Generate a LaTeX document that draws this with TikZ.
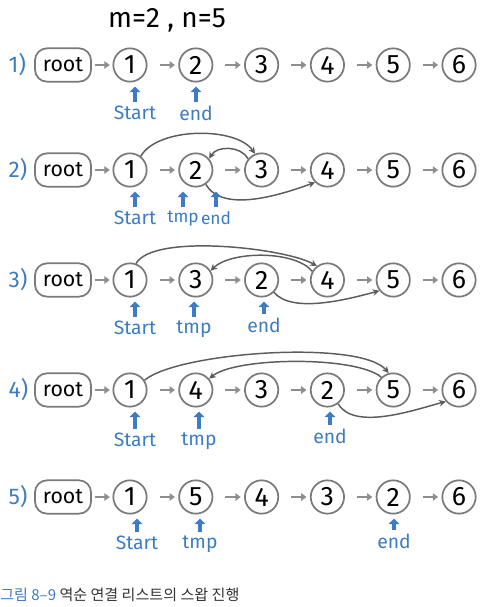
\documentclass[tikz,border=0pt]{standalone}
\usepackage{fontspec}
\setmainfont{Fira Sans}
\newfontfamily\krfont{Noto Sans CJK KR}
\usetikzlibrary{arrows.meta}
\definecolor{ptrblue}{HTML}{3B7CC4}
\definecolor{nodegray}{HTML}{7A7A7A}
\definecolor{linkgray}{HTML}{8E8E8E}
\definecolor{swapgray}{HTML}{5C5C5C}
\definecolor{captext}{HTML}{333333}
\tikzset{
  elem/.style={circle,draw=nodegray,line width=1.3pt,minimum size=25pt,inner sep=0pt,
    font=\fontsize{20}{20}\selectfont},
  rootbox/.style={rounded corners=9pt,draw=nodegray,line width=1.3pt,minimum width=42pt,
    minimum height=25pt,inner sep=0pt,font=\fontsize{16}{16}\selectfont},
  link/.style={line width=1.6pt,linkgray,-{Triangle[length=4pt,width=5.5pt]},
    shorten <=9pt,shorten >=2.5pt},
  rootlink/.style={link,shorten <=2pt,shorten >=2pt},
  swap/.style={line width=1.1pt,swapgray,-{Stealth[length=5pt,width=5pt]}},
  ptr/.style={line width=2.6pt,ptrblue,-{Triangle[length=4.2pt,width=8pt]},shorten >=3pt},
  ptrlbl/.style={font=\fontsize{14.5}{14.5}\selectfont,text=ptrblue,inner sep=3pt,anchor=north},
  smalllbl/.style={ptrlbl,font=\fontsize{13}{13}\selectfont,inner xsep=0pt},
  rowlbl/.style={font=\fontsize{17}{17}\selectfont,text=ptrblue,anchor=west},
}

\begin{document}
\begin{tikzpicture}[x=0.75pt,y=0.75pt]
  \useasboundingbox (0,0) rectangle (490,607);
  \node[font=\fontsize{21}{21}\selectfont] (title) at (167,587) {m=2 , n=5};

  % 1) start state
  \node[rowlbl] (l1) at (4,542) {1)};
  \node[rootbox] (r1) at (63,542) {root};
  \foreach \v [count=\i] in {1,2,3,4,5,6}
    \node[elem] (a\i) at ({130+65.8*(\i-1)},542) {\v};
  \draw[rootlink] (r1) -- (a1);
  \foreach \i [count=\j from 2] in {1,...,5}
    \draw[link] (a\i) -- (a\j);
  \node[ptrlbl] (s1) at (135,505) {Start};
  \node[ptrlbl] (e1) at (196,505) {end};
  \draw[ptr] (s1) -- (s1 |- a1.south);
  \draw[ptr] (e1) -- (e1 |- a2.south);

  % 2) first swap
  \node[rowlbl] (l2) at (4,437) {2)};
  \node[rootbox] (r2) at (63,437) {root};
  \foreach \v [count=\i] in {1,2,3,4,5,6}
    \node[elem] (b\i) at ({130+65.8*(\i-1)},437) {\v};
  \draw[rootlink] (r2) -- (b1);
  \foreach \i [count=\j from 2] in {1,...,5}
    \draw[link] (b\i) -- (b\j);
  \draw[swap] (b1.52) to[out=60,in=125,looseness=0.75] (b3.112);
  \draw[swap] (b3.140) to[out=120,in=60] (b2.40);
  \draw[swap] (b2.-55) to[out=-60,in=200,looseness=0.8] (b4.225);
  \node[ptrlbl] (s2) at (135,400) {Start};
  \node[smalllbl] (t2) at (183,400) {tmp};
  \node[smalllbl] (e2) at (216,400) {end};
  \draw[ptr] (s2) -- (s2 |- b1.south);
  \draw[ptr] (t2) -- (t2 |- b2.south);
  \draw[ptr] (e2) -- (e2 |- b2.south);

  % 3) second swap
  \node[rowlbl] (l3) at (4,327) {3)};
  \node[rootbox] (r3) at (63,327) {root};
  \foreach \v [count=\i] in {1,3,2,4,5,6}
    \node[elem] (c\i) at ({130+65.8*(\i-1)},327) {\v};
  \draw[rootlink] (r3) -- (c1);
  \foreach \i [count=\j from 2] in {1,...,5}
    \draw[link] (c\i) -- (c\j);
  \draw[swap] (c1.70) to[out=60,in=150,looseness=0.5] (c4.127);
  \draw[swap] (c4.150) to[out=130,in=45,looseness=0.7] (c2.32);
  \draw[swap] (c3.-45) to[out=-50,in=195,looseness=0.7] (c5.218);
  \node[ptrlbl] (s3) at (135,290) {Start};
  \node[ptrlbl] (t3) at (194,290) {tmp};
  \node[ptrlbl] (e3) at (264,293) {end};
  \draw[ptr] (s3) -- (s3 |- c1.south);
  \draw[ptr] (t3) -- (t3 |- c2.south);
  \draw[ptr] (e3) -- (e3 |- c3.south);

  % 4) third swap
  \node[rowlbl] (l4) at (4,217) {4)};
  \node[rootbox] (r4) at (63,217) {root};
  \foreach \v [count=\i] in {1,4,3,2,5,6}
    \node[elem] (d\i) at ({130+65.8*(\i-1)},217) {\v};
  \draw[rootlink] (r4) -- (d1);
  \foreach \i [count=\j from 2] in {1,...,5}
    \draw[link] (d\i) -- (d\j);
  \draw[swap] (d1.34) to[out=40,in=130,looseness=0.46] (d5.105);
  \draw[swap] (d5.133) to[out=140,in=40,looseness=0.5] (d2.40);
  \draw[swap] (d4.-52) to[out=-60,in=195,looseness=0.75] (d6.221);
  \node[ptrlbl] (s4) at (135,178) {Start};
  \node[ptrlbl] (t4) at (199,178) {tmp};
  \node[ptrlbl] (e4) at (330,182) {end};
  \draw[ptr] (s4) -- (s4 |- d1.south);
  \draw[ptr] (t4) -- (t4 |- d2.south);
  \draw[ptr] (e4) -- (e4 |- d4.south);

  % 5) result
  \node[rowlbl] (l5) at (4,110) {5)};
  \node[rootbox] (r5) at (63,110) {root};
  \foreach \v [count=\i] in {1,5,4,3,2,6}
    \node[elem] (f\i) at ({130+65.8*(\i-1)},110) {\v};
  \draw[rootlink] (r5) -- (f1);
  \foreach \i [count=\j from 2] in {1,...,5}
    \draw[link] (f\i) -- (f\j);
  \node[ptrlbl] (s5) at (137,75) {Start};
  \node[ptrlbl] (t5) at (200,75) {tmp};
  \node[ptrlbl] (e5) at (394,77) {end};
  \draw[ptr] (s5) -- (s5 |- f1.south);
  \draw[ptr] (t5) -- (t5 |- f2.south);
  \draw[ptr] (e5) -- (e5 |- f5.south);

  \node[anchor=west,inner sep=0pt,font=\krfont\fontsize{11.3}{11.3}\selectfont,text=captext] (cap) at (0,12)
    {\textcolor{ptrblue}{그림 8–9}\ 역순 연결 리스트의 스왑 진행};
\end{tikzpicture}
\end{document}
